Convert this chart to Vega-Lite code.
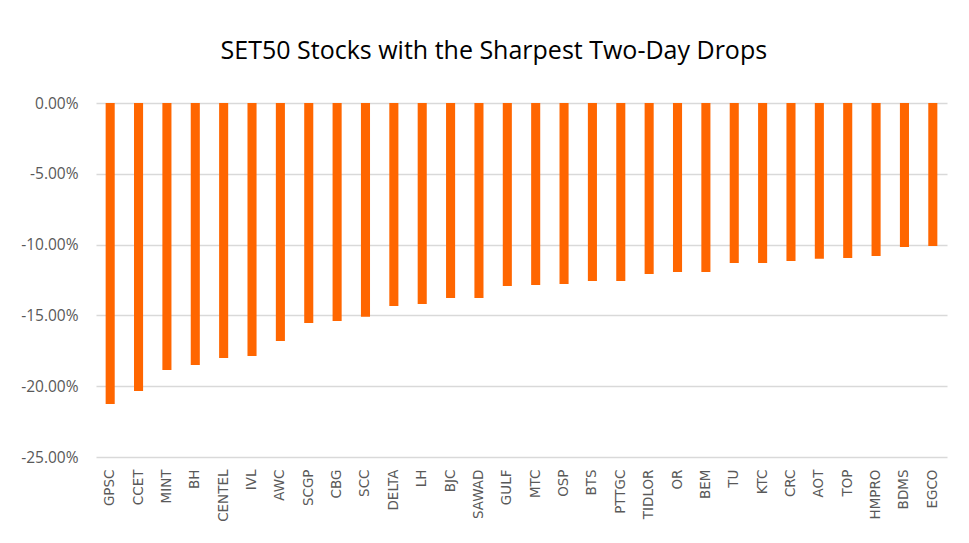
{
  "$schema": "https://vega.github.io/schema/vega-lite/v6.json",
  "width": 851,
  "height": 354,
  "autosize": {"type": "none"},
  "padding": {"left": 96, "top": 103, "right": 22, "bottom": 86},
  "background": "white",
  "title": {
    "text": "SET50 Stocks with the Sharpest Two-Day Drops",
    "font": "Open Sans",
    "fontSize": 25,
    "fontWeight": "normal",
    "color": "#000000",
    "anchor": "middle",
    "frame": "bounds",
    "dx": 10,
    "offset": 32
  },
  "config": {
    "view": {"stroke": null},
    "axis": {"labelFont": "Open Sans", "labelColor": "#595959"}
  },
  "data": {
    "values": [
      {"stock": "GPSC", "change": -0.2126},
      {"stock": "CCET", "change": -0.2034},
      {"stock": "MINT", "change": -0.1886},
      {"stock": "BH", "change": -0.185},
      {"stock": "CENTEL", "change": -0.180},
      {"stock": "IVL", "change": -0.1787},
      {"stock": "AWC", "change": -0.168},
      {"stock": "SCGP", "change": -0.1554},
      {"stock": "CBG", "change": -0.154},
      {"stock": "SCC", "change": -0.151},
      {"stock": "DELTA", "change": -0.1434},
      {"stock": "LH", "change": -0.142},
      {"stock": "BJC", "change": -0.1377},
      {"stock": "SAWAD", "change": -0.1377},
      {"stock": "GULF", "change": -0.1292},
      {"stock": "MTC", "change": -0.1285},
      {"stock": "OSP", "change": -0.1278},
      {"stock": "BTS", "change": -0.1257},
      {"stock": "PTTGC", "change": -0.1257},
      {"stock": "TIDLOR", "change": -0.1208},
      {"stock": "OR", "change": -0.1193},
      {"stock": "BEM", "change": -0.1193},
      {"stock": "TU", "change": -0.113},
      {"stock": "KTC", "change": -0.113},
      {"stock": "CRC", "change": -0.1116},
      {"stock": "AOT", "change": -0.110},
      {"stock": "TOP", "change": -0.1095},
      {"stock": "HMPRO", "change": -0.108},
      {"stock": "BDMS", "change": -0.1017},
      {"stock": "EGCO", "change": -0.101}
    ]
  },
  "mark": {"type": "bar", "color": "#FF6600"},
  "encoding": {
    "x": {
      "field": "stock",
      "type": "nominal",
      "sort": null,
      "scale": {"paddingInner": 0.68, "paddingOuter": 0.34},
      "axis": {
        "title": null,
        "labelAngle": -90,
        "labelAlign": "right",
        "labelBaseline": "middle",
        "labelPadding": 12,
        "labelFont": "DejaVu Sans",
        "labelFontSize": 13.5,
        "ticks": false,
        "domain": false,
        "grid": false
      }
    },
    "y": {
      "field": "change",
      "type": "quantitative",
      "scale": {"domain": [-0.25, 0], "nice": false},
      "axis": {
        "title": null,
        "format": ".2%",
        "labelExpr": "replace(format(datum.value, '.2%'), '\u2212', '-')",
        "values": [0, -0.05, -0.1, -0.15, -0.2, -0.25],
        "labelFontSize": 15.5,
        "ticks": false,
        "domain": false,
        "grid": true,
        "gridColor": "#D9D9D9",
        "gridWidth": 1.3,
        "labelPadding": 18
      }
    }
  }
}
